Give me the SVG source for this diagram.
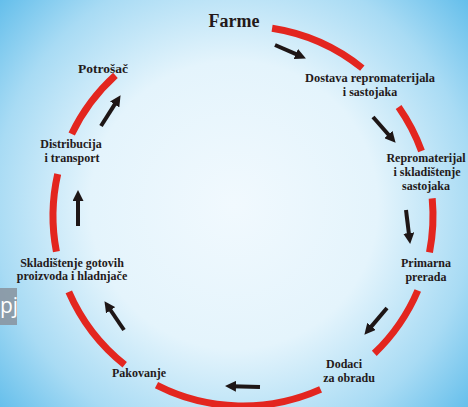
<svg xmlns="http://www.w3.org/2000/svg" width="468" height="407" viewBox="0 0 468 407">
  <defs>
    <radialGradient id="bg" gradientUnits="userSpaceOnUse" cx="234" cy="205" r="320">
      <stop offset="0" stop-color="#f1f9fe"/>
      <stop offset="0.45" stop-color="#e4f4fc"/>
      <stop offset="0.75" stop-color="#a8dbf4"/>
      <stop offset="1" stop-color="#5cbbea"/>
    </radialGradient>
    <marker id="ah" markerWidth="11" markerHeight="11" refX="4" refY="5.5" orient="auto" markerUnits="userSpaceOnUse">
      <path d="M0,0 L11,5.5 L0,11 z" fill="#1e1616"/>
    </marker>
    <style>
      .arc { fill: none; stroke: #e3261f; stroke-width: 7; stroke-linecap: butt; }
      .arr { stroke: #1e1616; stroke-width: 4; marker-end: url(#ah); }
      .lbl { font-family: "Liberation Serif", "Times New Roman", serif; font-weight: bold; font-size: 12px; fill: #241a1a; text-anchor: middle; }
    </style>
  </defs>
  <rect x="0" y="0" width="468" height="407" fill="url(#bg)"/>

  <g id="slide-fragment">
    <rect x="0" y="288" width="17" height="37" fill="#8a96a2" opacity="0.9"/>
    <text x="0" y="313" font-family="'Open Sans', 'DejaVu Sans', sans-serif" font-size="21" fill="#ffffff">pj</text>
  </g>

  <g id="connectors">
    <path class="arc" d="M272.1,28.2 A190,190 0 0 1 362.3,68.1"/>
    <path class="arc" d="M398.6,107.0 A190,190 0 0 1 421.5,151.0"/>
    <path class="arc" d="M432.2,198.4 A190,190 0 0 1 429.5,252.3"/>
    <path class="arc" d="M417.8,290.5 A190,190 0 0 1 374.3,353.4"/>
    <path class="arc" d="M320.6,389.4 A190,190 0 0 1 156.5,385.1"/>
    <path class="arc" d="M124.7,364.7 A190,190 0 0 1 68.8,291.8"/>
    <path class="arc" d="M56.4,251.6 A190,190 0 0 1 57.7,173.9"/>
    <path class="arc" d="M71.7,133.9 A190,190 0 0 1 115.4,75.3"/>

    <line class="arr" x1="275" y1="45" x2="299.5" y2="55.6"/>
    <line class="arr" x1="373" y1="117" x2="391.0" y2="137.5"/>
    <line class="arr" x1="406" y1="210" x2="409.3" y2="237.0"/>
    <line class="arr" x1="387" y1="308" x2="368.9" y2="329.4"/>
    <line class="arr" x1="260" y1="387" x2="232" y2="386.2"/>
    <line class="arr" x1="124" y1="330" x2="108.4" y2="307.0"/>
    <line class="arr" x1="78" y1="226" x2="78" y2="197"/>
    <line class="arr" x1="101" y1="126" x2="116.8" y2="101.1"/>
  </g>

  <g id="farme">
    <text class="lbl" x="234" y="27" style="font-size:18px">Farme</text>
  </g>
  <g id="dostava">
    <text class="lbl" x="370" y="82" textLength="130" lengthAdjust="spacingAndGlyphs">Dostava repromaterijala</text>
    <text class="lbl" x="370" y="96">i sastojaka</text>
  </g>
  <g id="repromaterijal">
    <text class="lbl" x="426" y="162">Repromaterijal</text>
    <text class="lbl" x="427" y="176">i skladištenje</text>
    <text class="lbl" x="426" y="190">sastojaka</text>
  </g>
  <g id="primarna">
    <text class="lbl" x="426" y="267">Primarna</text>
    <text class="lbl" x="426" y="281">prerada</text>
  </g>
  <g id="dodaci">
    <text class="lbl" x="344" y="368">Dodaci</text>
    <text class="lbl" x="349" y="382">za obradu</text>
  </g>
  <g id="pakovanje">
    <text class="lbl" x="139" y="377">Pakovanje</text>
  </g>
  <g id="skladistenje">
    <text class="lbl" x="72" y="267">Skladištenje gotovih</text>
    <text class="lbl" x="72" y="280">proizvoda i hladnjače</text>
  </g>
  <g id="distribucija">
    <text class="lbl" x="71" y="148">Distribucija</text>
    <text class="lbl" x="72" y="162">i transport</text>
  </g>
  <g id="potrosac">
    <text class="lbl" x="103" y="73" style="font-size:13.5px">Potrošač</text>
  </g>
</svg>
